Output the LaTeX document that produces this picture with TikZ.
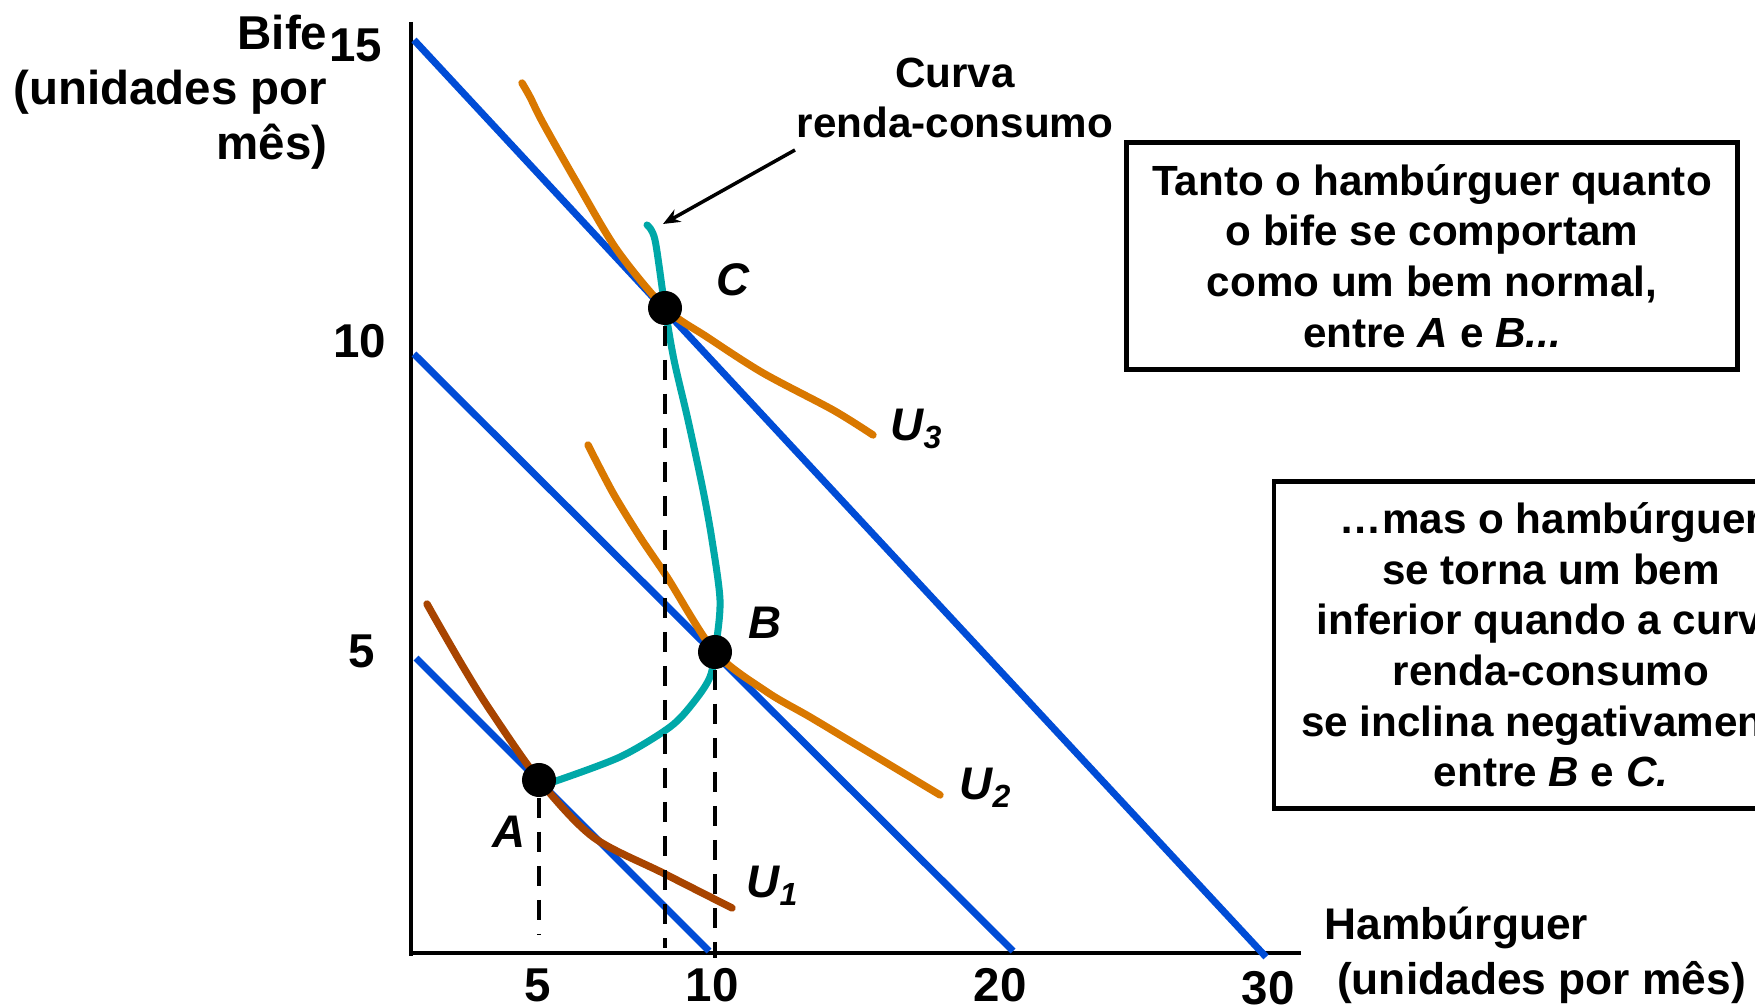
\documentclass[tikz,border=0pt]{standalone}
\usepackage{fontspec}
\setmainfont{Liberation Sans}
\usetikzlibrary{positioning,arrows.meta}

\definecolor{budgetblue}{RGB}{0,76,214}
\definecolor{uorange}{RGB}{217,120,0}
\definecolor{ubrown}{RGB}{168,68,0}
\definecolor{iccteal}{RGB}{0,168,168}

\tikzset{
  budget/.style={budgetblue, line width=2pt},
  indiff/.style={uorange, line width=2.1pt, line cap=round},
  icc/.style={iccteal, line width=2pt, line cap=round},
  guide/.style={black, line width=1pt, dash pattern=on 0.2cm off 0.14cm},
  dot/.style={circle, fill=black, inner sep=0pt, minimum size=0.34cm},
  ptlabel/.style={font=\fontsize{13}{15}\selectfont\bfseries\itshape},
  ticklabel/.style={inner sep=0pt, font=\fontsize{13.5}{16}\selectfont\bfseries},
  axislabel/.style={inner sep=0pt, font=\fontsize{13.5}{15.6}\selectfont\bfseries},
  infobox/.style={draw, line width=1.3pt, align=center, inner sep=0pt,
    font=\fontsize{12}{14.4}\selectfont\bfseries}
}

\begin{document}
\begin{tikzpicture}[x=0.01cm, y=-0.01cm]
  \clip (0,0) rectangle (1755,1007);

  % axes
  \draw[line width=0.9pt] (411,22) -- (411,956);
  \draw[line width=0.9pt] (409,953) -- (1301,953);
  \node[axislabel, align=right, anchor=east] (ylab) at (328,92) {Bife\\(unidades por\\mês)};
  \node[axislabel, font=\fontsize{12.6}{15.6}\selectfont\bfseries, align=left, anchor=west] (xlab) at (1324,955) {Hambúrguer\\\hspace{0.28em}(unidades por mês)};

  \node[ticklabel] (y15) at (356,45) {15};
  \node[ticklabel] (y10) at (360,341) {10};
  \node[ticklabel] (y5) at (362,651) {5};
  \node[ticklabel] (x5) at (538,985) {5};
  \node[ticklabel] (x10) at (712,985) {10};
  \node[ticklabel] (x20) at (1000,985) {20};
  \node[ticklabel] (x30) at (1268,988) {30};

  % budget lines
  \draw[budget] (416,658) -- (709,951);
  \draw[budget] (414,354) -- (1013,951);
  \draw[budget] (414,40) -- (1266,957);

  % indifference curves
  \draw[indiff, ubrown] plot[smooth] coordinates {(427,604) (440,627) (465,670) (490,710) (539,780) (593,837) (663,873) (732,908)};
  \draw[indiff] plot[smooth] coordinates {(588,445) (613,493) (640,537) (667,577) (715,652) (767,692) (810,717) (860,747) (940,795)};
  \draw[indiff] plot[smooth] coordinates {(522,83) (530,97) (543,123) (577,183) (617,250) (665,308) (707,337) (763,373) (833,410) (873,435)};

  % income-consumption curve
  \draw[icc] plot[smooth] coordinates {(647,225) (655,240) (665,308) (674,360) (688,420) (703,490) (712,540) (720,600) (716,645) (710,677) (693,703) (670,727) (620,757) (553,782)};

  % equilibrium points
  \node[dot] (A) at (539,780) {};
  \node[dot] (B) at (715,652) {};
  \node[dot] (C) at (665,308) {};
  \draw[guide] (A) -- (539,934);
  \draw[guide] (B) -- (715,952);
  \draw[guide] (C) -- (665,948);
  \draw[line width=1pt] (715,950) -- (715,958);

  \node[ptlabel] (labA) at (509,832) {A};
  \node[ptlabel] (labB) at (765,623) {B};
  \node[ptlabel] (labC) at (733,280) {C};
  \node[ptlabel] (labU1) at (773,886) {U\textsubscript{1}};
  \node[ptlabel] (labU2) at (986,788) {U\textsubscript{2}};
  \node[ptlabel] (labU3) at (917,429) {U\textsubscript{3}};

  % label of the curve
  \node[font=\fontsize{12}{14.3}\selectfont\bfseries, align=center] (rcLabel) at (955,98) {Curva\\renda-consumo};
  \coordinate (rcTail) at (795,150);
  \coordinate (rcTip) at (663,224);
  \draw[line width=1pt, -{Stealth[length=0.17cm, width=0.14cm]}] (rcTail) -- (rcTip);

  % text boxes
  \node[infobox, minimum width=6.11cm, minimum height=2.27cm] (normalBox) at (1432,256)
    {Tanto o hambúrguer quanto\\o bife se comportam\\como um bem normal,\\entre \textit{A} e \textit{B...}};
  \node[infobox, minimum width=5.54cm, minimum height=3.27cm] (inferiorBox) at (1551,645)
    {…mas o hambúrguer\\se torna um bem\\inferior quando a curva\\renda-consumo\\se inclina negativamente\\entre \textit{B} e \textit{C.}};
\end{tikzpicture}
\end{document}
